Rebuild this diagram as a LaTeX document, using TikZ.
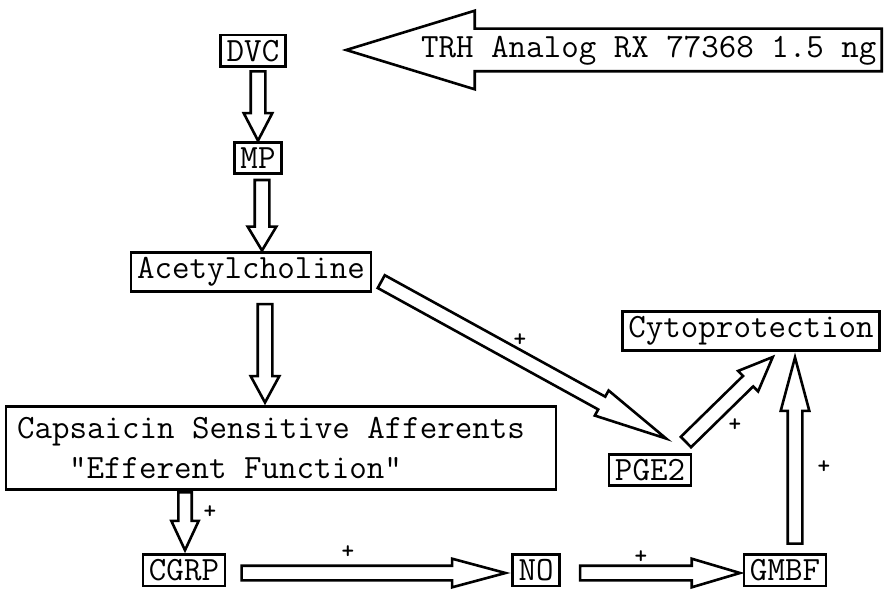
\documentclass[tikz,border=0pt]{standalone}
\usepackage{fontspec}
\usetikzlibrary{calc, positioning, shapes.arrows}
\tikzset{
    boxed/.style={draw, rectangle, line width=1.3pt, inner xsep=3pt, inner ysep=2.5pt, font=\fontsize{17}{20}\selectfont\ttfamily},
    flow/.style={draw, single arrow, line width=1.3pt, fill=white, inner xsep=0pt, inner ysep=3pt, text height=0pt, text depth=0pt, single arrow head extend=3.5pt, single arrow tip angle=55, single arrow head indent=0pt},
    bigarrow/.style={draw, single arrow, shape border rotate=180, line width=1.3pt, inner xsep=2pt, inner ysep=3pt, text height=11pt, text depth=3pt, single arrow head extend=9pt, single arrow tip angle=34, single arrow head indent=0pt, font=\fontsize{17}{20}\selectfont\ttfamily},
    plus/.style={font=\fontsize{12}{12}\selectfont\ttfamily\bfseries, inner sep=0pt}
}
\newcommand{\flowarrow}[3][]{\path let \p1=($(#3)-(#2)$), \n1={veclen(\x1,\y1)} in (#2) -- (#3) node[flow, pos=0, anchor=tail, sloped, allow upside down, minimum height=\n1, #1] {};}

\begin{document}
\begin{tikzpicture}[x=0.5pt, y=-0.5pt]
    \useasboundingbox (0,0) rectangle (886,592);
    \node[boxed] (DVC) at (253,51) {DVC};
    \node[bigarrow, anchor=tail] (TRH) at (883,50) {TRH Analog RX 77368 1.5 ng};
    \node[boxed] (MP) at (258,158) {MP};
    \node[boxed] (acetyl) at (251,272) {Acetylcholine};
    \node[boxed, minimum width=275pt, minimum height=41.5pt, align=left] (caps) at (281,448)
        {Capsaicin Sensitive Afferents\hspace*{10pt}\\\hspace*{26pt}"Efferent Function"};
    \node[boxed] (CGRP) at (184,570) {CGRP};
    \node[boxed] (NO) at (536,570) {NO};
    \node[boxed] (GMBF) at (785,570) {GMBF};
    \node[boxed] (PGE) at (650,470) {PGE2};
    \node[boxed] (cyto) at (751,331) {Cytoprotection};
    % ----
    \coordinate (dvc-out) at ($(DVC.south)+(5,2)$);
    \coordinate (mp-in) at ($(MP.north)+(0,-2)$);
    \coordinate (mp-out) at ($(MP.south)+(4,4)$);
    \coordinate (ach-in) at ($(acetyl.north)+(11,-2)$);
    \coordinate (ach-down) at ($(acetyl.south)+(14,10)$);
    \coordinate (caps-in) at ($(caps.north)+(-16,-4)$);
    \coordinate (ach-right) at ($(acetyl.east)+(8,9)$);
    \coordinate (pge-in) at ($(PGE.north)+(15,-15)$);
    \coordinate (pge-out) at ($(PGE.north)+(35,-10)$);
    \coordinate (cyto-left) at ($(cyto.south)+(21,6)$);
    \coordinate (caps-out) at ($(CGRP.north)+(1,-62)$);
    \coordinate (cgrp-in) at ($(CGRP.north)+(1,-4)$);
    \coordinate (cgrp-out) at ($(CGRP.east)+(14,3)$);
    \coordinate (no-in) at ($(NO.west)+(-7,3)$);
    \coordinate (no-out) at ($(NO.east)+(18,3)$);
    \coordinate (gmbf-in) at ($(GMBF.west)+(-4,3)$);
    \coordinate (gmbf-out) at ($(GMBF.north)+(10,-8)$);
    \coordinate (cyto-right) at ($(cyto.south)+(44,7)$);
    % ----
    \flowarrow{dvc-out}{mp-in}
    \flowarrow[single arrow tip angle=62]{mp-out}{ach-in}
    \flowarrow[single arrow tip angle=57]{ach-down}{caps-in}
    \flowarrow[single arrow tip angle=22]{ach-right}{pge-in}
    \flowarrow[single arrow tip angle=45]{pge-out}{cyto-left}
    \flowarrow[single arrow tip angle=50, inner ysep=2.7pt]{caps-out}{cgrp-in}
    \flowarrow[single arrow tip angle=30]{cgrp-out}{no-in}
    \flowarrow[single arrow tip angle=33]{no-out}{gmbf-in}
    \flowarrow[single arrow tip angle=30]{gmbf-out}{cyto-right}
    % ----
    \node[plus] at (520,340) {+};
    \node[plus] at (735,425) {+};
    \node[plus] at (824,467) {+};
    \node[plus] at (210,512) {+};
    \node[plus] at (348,552) {+};
    \node[plus] at (641,557) {+};
\end{tikzpicture}
\end{document}
